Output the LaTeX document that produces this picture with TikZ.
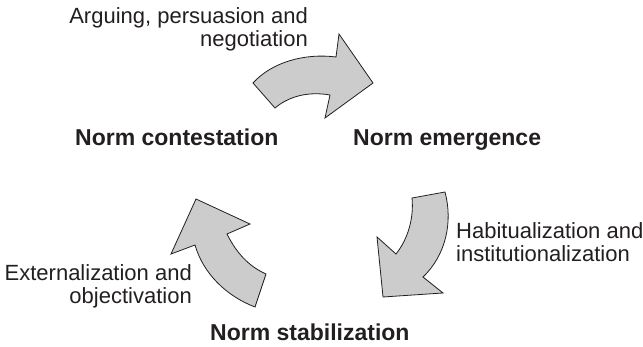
\documentclass[tikz,border=0pt]{standalone}
\usepackage{fontspec}
\setmainfont{Liberation Sans}
\definecolor{arrowfill}{HTML}{CCCCCC}
\definecolor{ink}{HTML}{231F20}
\begin{document}
\begin{tikzpicture}[x=1pt,y=-1pt,
  bigarrow/.style={draw=ink,fill=arrowfill,line width=0.8pt,line join=miter},
  stage/.style={font=\fontsize{23}{25}\selectfont\bfseries,text=ink,inner sep=0pt},
  process/.style={font=\fontsize{22}{23}\selectfont,text=ink,inner sep=0pt}]
\useasboundingbox (0,0) rectangle (643,347);
% top arrow
\draw[bigarrow] (253,83) .. controls (272,62) and (305,53) .. (336,57)
  -- (339,34) -- (373,83) -- (325,118) -- (330,95)
  .. controls (307,91) and (288,97) .. (275,108) -- cycle;
% right arrow
\draw[bigarrow] (412,198) -- (445,192)
  .. controls (453,222) and (446,255) .. (423,277)
  -- (443,293) -- (383,297) -- (377,237) -- (396,254)
  .. controls (408,239) and (414,218) .. (412,198) -- cycle;
% left arrow
\draw[bigarrow] (196,199) -- (250,224) -- (227,234)
  .. controls (236,252) and (248,266) .. (266,274)
  -- (255,307)
  .. controls (226,296) and (203,273) .. (195,245)
  -- (171,254) -- cycle;
% stage labels
\node[stage,anchor=base west] (contest) at (75,146) {Norm contestation};
\node[stage,anchor=base west] (emerge) at (353,146) {Norm emergence};
\node[stage,anchor=base west] (stab) at (210,341) {Norm stabilization};
% process labels (anchor = baseline of last line)
\node[process,anchor=base east,align=right] (argue) at (308,47) {Arguing, persuasion and\\negotiation};
\node[process,anchor=base west,align=left] (habit) at (456,262) {Habitualization and\\institutionalization};
\node[process,anchor=base east,align=right] (extern) at (192,304) {Externalization and\\objectivation};
\end{tikzpicture}
\end{document}
